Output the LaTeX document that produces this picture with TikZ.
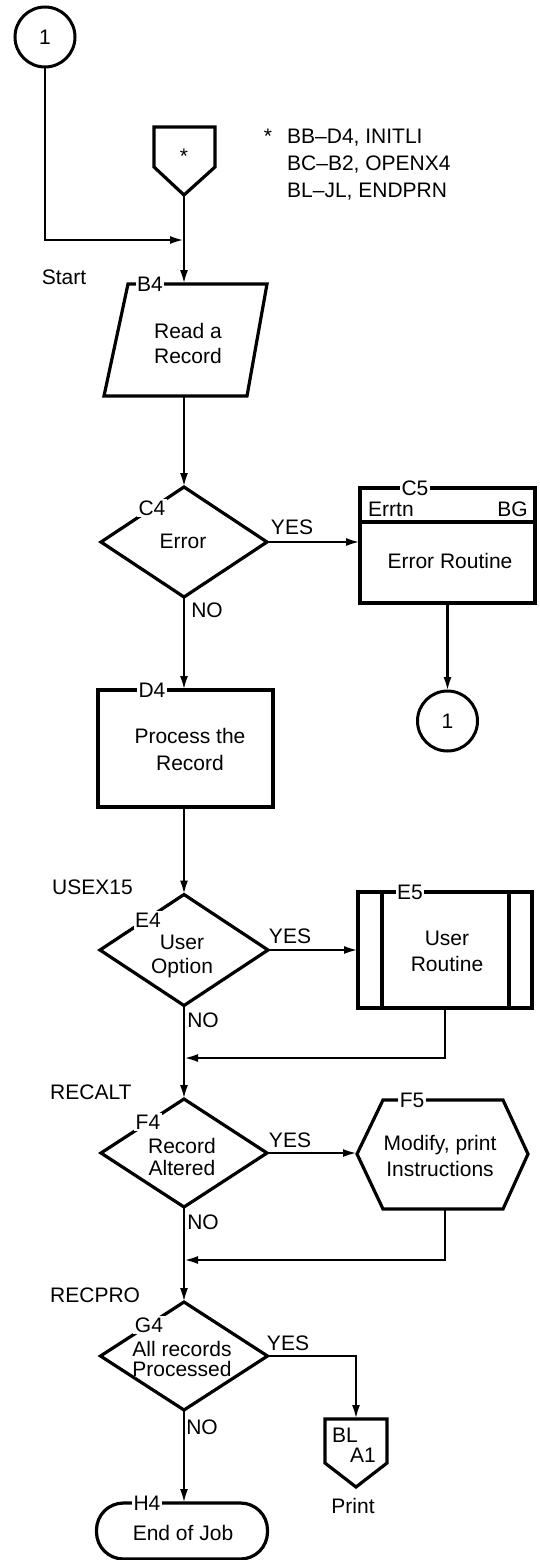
\documentclass[tikz,border=0pt]{standalone}
\usepackage{fontspec}
\setmainfont{Liberation Sans}
\usetikzlibrary{shapes.geometric,arrows.meta}
\newcommand{\dgfont}{\fontsize{21}{25}\selectfont}
\begin{document}
\begin{tikzpicture}[x=1pt,y=-1pt,
  shp/.style={draw,line width=3.2pt,line join=miter},
  ln/.style={line width=2.4pt},
  arr/.style={ln,-{Latex[length=14pt,width=8pt]}},
  txt/.style={font=\dgfont,inner sep=0pt,align=center},
  tag/.style={font=\dgfont,fill=white,inner sep=1.5pt},
  dia/.style={shape=diamond,draw,line width=3.2pt,inner sep=0pt,outer sep=0pt},
  box/.style={rectangle,draw,line width=3.2pt,inner sep=0pt,outer sep=0pt},
  conn/.style={circle,draw,line width=3pt,minimum size=60pt,inner sep=0pt,outer sep=0pt,font=\dgfont}
]
\fill[white] (0,0) rectangle (540,1560);
\useasboundingbox (0,0) rectangle (540,1560);

% ---------- top connector and off-page entry ----------
\node[conn] (c1) at (45,37) {1};
\draw[shp] (154,127) -- (215,127) -- (215,167) -- (184,195) -- (154,167) -- cycle;
\node[txt] (star) at (184,156) {*};
\coordinate (starpt) at (184,195);
\coordinate (j0) at (184,240);

\node[txt] (fnstar) at (268,136) {*};
\node[txt,anchor=west,align=left,font=\fontsize{21}{27}\selectfont] (fn) at (287,165)
  {BB–D4, INITLI\\BC–B2, OPENX4\\BL–JL, ENDPRN};
\node[txt] (start) at (64,277) {Start};

% ---------- B4 ----------
\draw[shp] (128,284) -- (267,284) -- (247,396) -- (104,396) -- cycle;
\coordinate (b4top) at (184,284);
\coordinate (b4bot) at (184,396);
\node[tag] (b4tag) at (150,284) {B4};
\node[txt] (b4) at (188,343) {Read a\\Record};

% ---------- C4 ----------
\node[dia,minimum width=166pt,minimum height=110pt] (C4) at (184,542) {};
\node[tag] (c4tag) at (152,508) {C4};
\node[txt] (c4t) at (183,541) {Error};
\node[txt] (c4yes) at (292,527) {YES};
\node[txt] (c4no) at (207,610) {NO};

% ---------- C5 ----------
\node[box,minimum width=175pt,minimum height=115pt] (C5) at (447.5,545.5) {};
\draw[shp] (C5.west |- 0,522) -- (C5.east |- 0,522);
\node[tag] (c5tag) at (415,488) {C5};
\node[txt,anchor=west] (c5l) at (368,509) {Errtn};
\node[txt,anchor=east] (c5r) at (528,509) {BG};
\node[txt] (c5t) at (450,561) {Error Routine};
\node[conn] (c2) at (447.5,721) {1};

% ---------- D4 ----------
\node[box,minimum width=175pt,minimum height=117pt] (D4) at (185.5,748.5) {};
\node[tag] (d4tag) at (152,690) {D4};
\node[txt,font=\fontsize{21}{27}\selectfont] (d4t) at (190,749) {Process the\\Record};

% ---------- E4 / E5 ----------
\node[txt,anchor=west] (usex) at (52,887) {USEX15};
\node[dia,minimum width=168pt,minimum height=111pt] (E4) at (184,950) {};
\node[tag] (e4tag) at (148,920) {E4};
\node[txt,font=\fontsize{21}{24}\selectfont] (e4t) at (182,956) {User\\Option};
\node[txt] (e4yes) at (290,936) {YES};
\node[txt] (e4no) at (203,1020) {NO};

\node[box,minimum width=174pt,minimum height=116pt] (E5) at (445,950) {};
\draw[shp] (382,892) -- (382,1008);
\draw[shp] (509,892) -- (509,1008);
\node[tag] (e5tag) at (410,892) {E5};
\node[txt,font=\fontsize{21}{26}\selectfont] (e5t) at (447,951) {User\\Routine};
\coordinate (m1) at (184,1058);

% ---------- F4 / F5 ----------
\node[txt,anchor=west] (recalt) at (50,1092) {RECALT};
\node[dia,minimum width=166pt,minimum height=108pt] (F4) at (184,1153) {};
\node[tag] (f4tag) at (148,1122) {F4};
\node[txt,font=\fontsize{21}{22}\selectfont] (f4t) at (182,1157) {Record\\Altered};
\node[txt] (f4yes) at (290,1140) {YES};
\node[txt] (f4no) at (203,1222) {NO};

\draw[shp] (357,1154) -- (383,1100) -- (503,1100) -- (528,1154) -- (503,1209) -- (383,1209) -- cycle;
\coordinate (f5w) at (357,1154);
\coordinate (f5b) at (445,1209);
\node[tag] (f5tag) at (412,1100) {F5};
\node[txt,font=\fontsize{21}{26}\selectfont] (f5t) at (440,1156) {Modify, print\\Instructions};
\coordinate (m2) at (184,1260);

% ---------- G4 ----------
\node[txt,anchor=west] (recpro) at (50,1295) {RECPRO};
\node[dia,minimum width=167pt,minimum height=108pt] (G4) at (184,1356) {};
\node[tag] (g4tag) at (149,1325) {G4};
\node[txt,font=\fontsize{21}{20}\selectfont] (g4t) at (182,1359) {All records\\Processed};
\node[txt] (g4yes) at (288,1343) {YES};
\node[txt] (g4no) at (202,1427) {NO};

\draw[shp] (325,1419) -- (387,1419) -- (387,1463) -- (356,1487) -- (325,1463) -- cycle;
\coordinate (p2top) at (356,1419);
\node[txt] (bl) at (345,1435) {BL};
\node[txt] (a1) at (363,1455) {A1};
\node[txt] (print) at (353,1506) {Print};

% ---------- H4 ----------
\node[box,rounded corners=27pt,minimum width=171pt,minimum height=56pt] (H4) at (182,1531) {};
\node[tag] (h4tag) at (147,1503) {H4};
\node[txt] (h4t) at (183,1533) {End of Job};

% ---------- connectors ----------
\draw[arr] (c1.south) |- (j0);
\draw[arr] (starpt) -- (b4top);
\draw[arr] (b4bot) -- (C4.north);
\draw[arr] (C4.east) -- (C4.east -| C5.west);
\draw[arr] (C4.south) -- (C4.south |- D4.north);
\draw[arr] (C5.south) -- (c2.north);
\draw[arr] (D4.south -| E4.north) -- (E4.north);
\draw[arr] (E4.east) -- (E4.east -| E5.west);
\draw[arr] (E5.south) |- (m1);
\draw[arr] (E4.south) -- (F4.north);
\draw[arr] (F4.east) -- (F4.east -| f5w);
\draw[arr] (f5b) |- (m2);
\draw[arr] (F4.south) -- (G4.north);
\draw[arr] (G4.east) -| (p2top);
\draw[arr] (G4.south) -- (G4.south |- H4.north);
\end{tikzpicture}
\end{document}
